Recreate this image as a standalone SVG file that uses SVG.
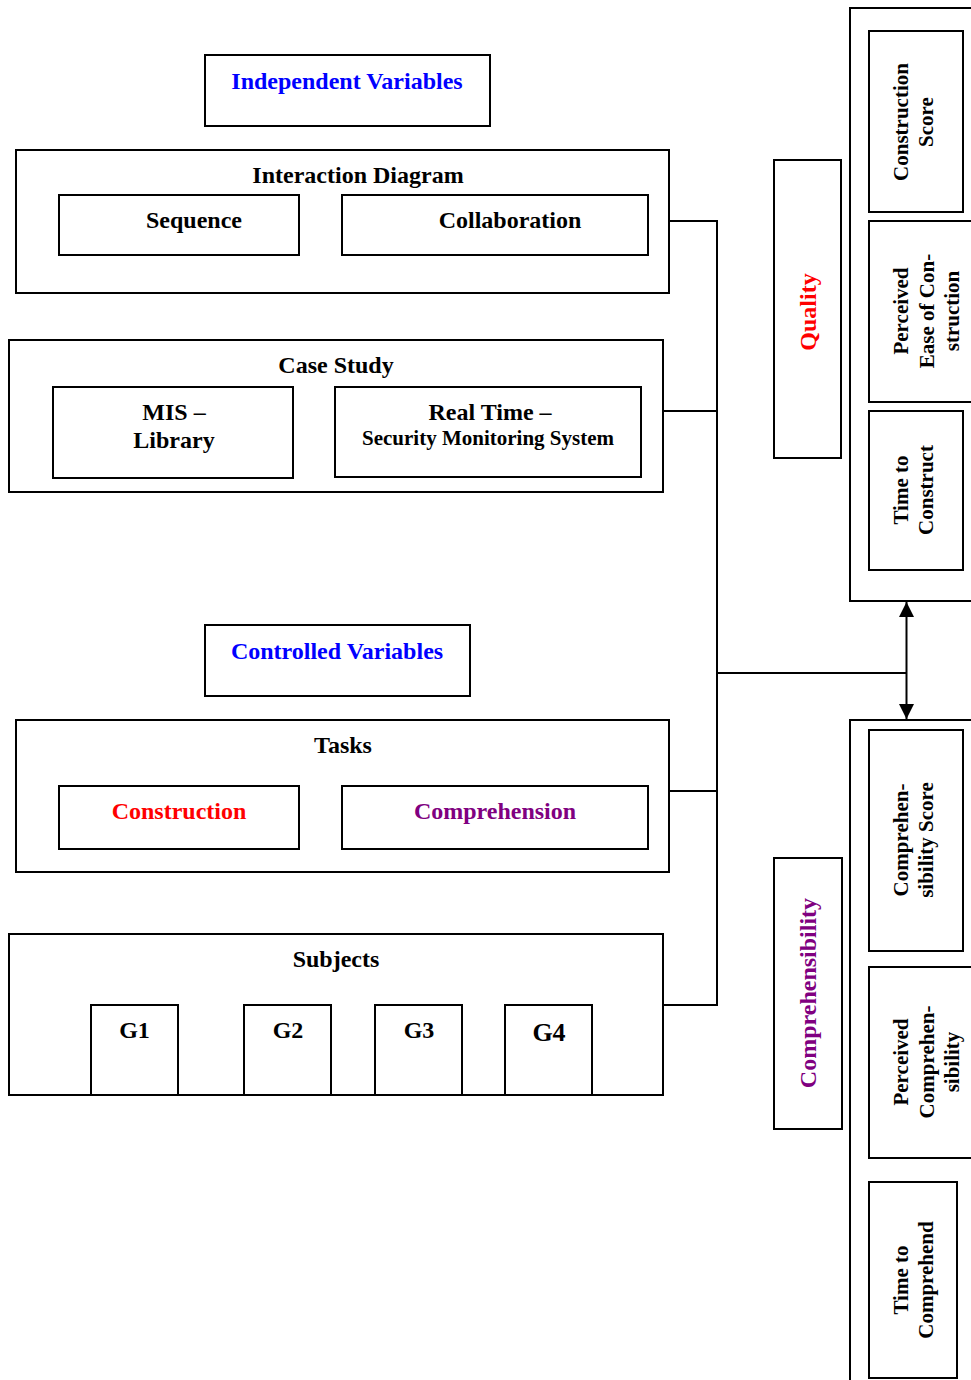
<svg xmlns="http://www.w3.org/2000/svg" width="971" height="1380" viewBox="0 0 971 1380">
<defs>
<style>
rect{fill:#fff;stroke:#000;stroke-width:2}
text{font-family:"Liberation Serif","Times New Roman",serif;font-weight:bold;fill:#000;text-anchor:middle}
.t24{font-size:24px}
.t21{font-size:21px}
.blue{fill:#0000FF}
.red{fill:#FF0000}
.purple{fill:#800080}
.line{fill:none;stroke:#000;stroke-width:2}
</style>
<marker id="arr" viewBox="0 0 10 10" refX="10" refY="5" markerWidth="16" markerHeight="15" orient="auto-start-reverse" markerUnits="userSpaceOnUse">
<path d="M0,0 L10,5 L0,10 z" fill="#000"/>
</marker>
</defs>
<rect x="0" y="0" width="971" height="1380" style="stroke:none"/>

<g id="connectors">
<path class="line" d="M669,221 H717 M663,411 H717 M669,791 H717 M663,1005 H717 M717,220 V1006 M717,673 H906"/>
<path class="line" d="M906.5,602 V719" marker-start="url(#arr)" marker-end="url(#arr)"/>
</g>

<g id="independent-variables">
<rect x="205" y="55" width="285" height="71"/>
<text class="t24 blue" x="347" y="89">Independent Variables</text>
</g>

<g id="interaction-diagram">
<rect x="16" y="150" width="653" height="143"/>
<text class="t24" x="358" y="183">Interaction Diagram</text>
</g>
<g id="sequence">
<rect x="59" y="195" width="240" height="60"/>
<text class="t24" x="194" y="228">Sequence</text>
</g>
<g id="collaboration">
<rect x="342" y="195" width="306" height="60"/>
<text class="t24" x="510" y="228">Collaboration</text>
</g>

<g id="case-study">
<rect x="9" y="340" width="654" height="152"/>
<text class="t24" x="336" y="373">Case Study</text>
</g>
<g id="mis-library">
<rect x="53" y="387" width="240" height="91"/>
<text class="t24" x="174" y="420">MIS –</text>
<text class="t24" x="174" y="448">Library</text>
</g>
<g id="real-time">
<rect x="335" y="387" width="306" height="90"/>
<text class="t24" x="490" y="420">Real Time –</text>
<text class="t21" x="488" y="445">Security Monitoring System</text>
</g>

<g id="controlled-variables">
<rect x="205" y="625" width="265" height="71"/>
<text class="t24 blue" x="337" y="659">Controlled Variables</text>
</g>

<g id="tasks">
<rect x="16" y="720" width="653" height="152"/>
<text class="t24" x="343" y="753">Tasks</text>
</g>
<g id="construction">
<rect x="59" y="786" width="240" height="63"/>
<text class="t24 red" x="179" y="819">Construction</text>
</g>
<g id="comprehension">
<rect x="342" y="786" width="306" height="63"/>
<text class="t24 purple" x="495" y="819">Comprehension</text>
</g>

<g id="subjects">
<rect x="9" y="934" width="654" height="161"/>
<text class="t24" x="336" y="967">Subjects</text>
</g>
<g id="g1">
<rect x="91" y="1005" width="87" height="90"/>
<text class="t24" x="134.5" y="1038">G1</text>
</g>
<g id="g2">
<rect x="244" y="1005" width="87" height="90"/>
<text class="t24" x="288" y="1038">G2</text>
</g>
<g id="g3">
<rect x="375" y="1005" width="87" height="90"/>
<text class="t24" x="419" y="1038">G3</text>
</g>
<g id="g4">
<rect x="505" y="1005" width="87" height="90"/>
<text class="t24" x="549" y="1041" style="font-size:26px">G4</text>
</g>

<g id="quality">
<rect x="774" y="160" width="67" height="298"/>
<text class="t24 red" transform="translate(0,312) rotate(-90)" x="0" y="816">Quality</text>
</g>

<g id="quality-measures">
<rect x="850" y="8" width="130" height="593"/>
</g>
<g id="construction-score">
<rect x="869" y="31" width="94" height="181"/>
<text class="t21" transform="translate(0,122) rotate(-90)"><tspan x="0" y="908">Construction</tspan><tspan x="0" y="933">Score</tspan></text>
</g>
<g id="perceived-ease">
<rect x="869" y="221" width="110" height="181"/>
<text class="t21" transform="translate(0,311) rotate(-90)"><tspan x="0" y="908">Perceived</tspan><tspan x="0" y="934">Ease of Con-</tspan><tspan x="0" y="959">struction</tspan></text>
</g>
<g id="time-to-construct">
<rect x="869" y="411" width="94" height="159"/>
<text class="t21" transform="translate(0,490) rotate(-90)"><tspan x="0" y="908">Time to</tspan><tspan x="0" y="933">Construct</tspan></text>
</g>

<g id="comprehensibility">
<rect x="774" y="858" width="68" height="271"/>
<text class="t24 purple" transform="translate(0,993) rotate(-90)" x="0" y="816">Comprehensibility</text>
</g>

<g id="comprehensibility-measures">
<rect x="850" y="720" width="130" height="680"/>
</g>
<g id="comprehensibility-score">
<rect x="869" y="730" width="94" height="221"/>
<text class="t21" transform="translate(0,840) rotate(-90)"><tspan x="0" y="908">Comprehen-</tspan><tspan x="0" y="933">sibility Score</tspan></text>
</g>
<g id="perceived-comprehensibility">
<rect x="869" y="967" width="110" height="191"/>
<text class="t21" transform="translate(0,1062) rotate(-90)"><tspan x="0" y="908">Perceived</tspan><tspan x="0" y="934">Comprehen-</tspan><tspan x="0" y="959">sibility</tspan></text>
</g>
<g id="time-to-comprehend">
<rect x="869" y="1182" width="88" height="196"/>
<text class="t21" transform="translate(0,1280) rotate(-90)"><tspan x="0" y="908">Time to</tspan><tspan x="0" y="933">Comprehend</tspan></text>
</g>
</svg>
